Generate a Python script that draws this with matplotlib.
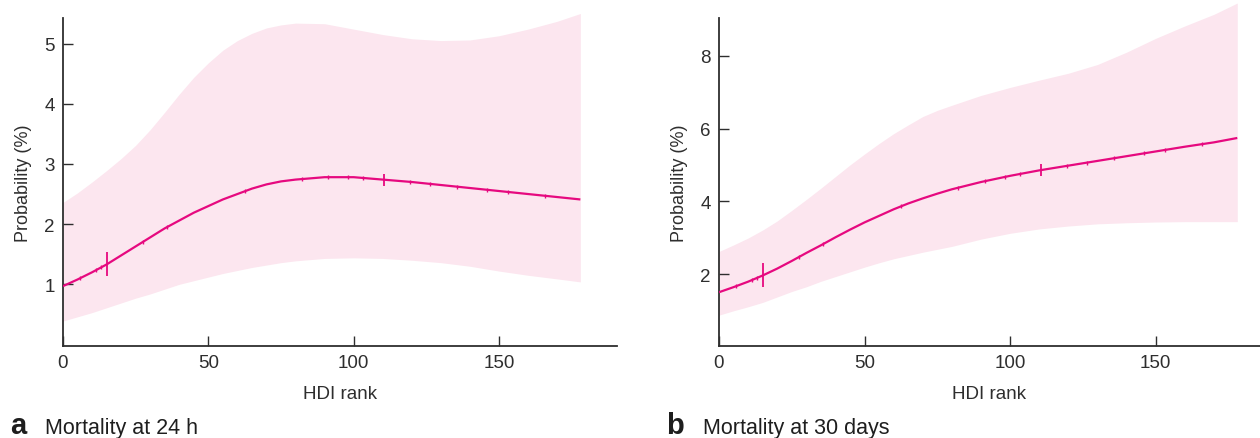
import numpy as np
import matplotlib
matplotlib.use("Agg")
import matplotlib.pyplot as plt

plt.rcParams['font.family'] = ['Liberation Sans', 'DejaVu Sans']

# ---------------- data ----------------
hdi_rank = [0, 5, 10, 15, 20, 25, 30, 35, 40, 45, 50, 55, 60, 65, 70, 75, 80,
            90, 100, 110, 120, 130, 140, 150, 160, 170, 178]

# panel a: mortality at 24 h
a_prob = [0.97, 1.08, 1.20, 1.33, 1.48, 1.63, 1.78, 1.93, 2.06, 2.19, 2.30, 2.41,
          2.50, 2.59, 2.66, 2.71, 2.74, 2.78, 2.78, 2.74, 2.70, 2.65, 2.60, 2.55,
          2.50, 2.45, 2.41]
a_upper = [2.36, 2.52, 2.70, 2.89, 3.09, 3.31, 3.57, 3.86, 4.16, 4.44, 4.68, 4.89,
           5.05, 5.17, 5.26, 5.31, 5.34, 5.33, 5.24, 5.15, 5.08, 5.05, 5.06, 5.13,
           5.24, 5.37, 5.50]
a_lower = [0.39, 0.46, 0.53, 0.61, 0.69, 0.77, 0.84, 0.92, 1.00, 1.06, 1.12, 1.18,
           1.23, 1.28, 1.32, 1.36, 1.39, 1.43, 1.44, 1.43, 1.40, 1.36, 1.30, 1.22,
           1.15, 1.09, 1.04]

# panel b: mortality at 30 days
b_prob = [1.50, 1.64, 1.79, 1.96, 2.15, 2.36, 2.58, 2.79, 3.01, 3.22, 3.42, 3.60,
          3.78, 3.94, 4.08, 4.21, 4.33, 4.53, 4.70, 4.85, 4.98, 5.11, 5.24, 5.37,
          5.50, 5.62, 5.74]
b_upper = [2.62, 2.80, 2.99, 3.21, 3.46, 3.75, 4.05, 4.36, 4.68, 5.00, 5.30, 5.59,
           5.86, 6.10, 6.33, 6.50, 6.64, 6.91, 7.13, 7.33, 7.52, 7.76, 8.10, 8.48,
           8.82, 9.14, 9.45]
b_lower = [0.87, 0.99, 1.10, 1.22, 1.37, 1.52, 1.65, 1.80, 1.93, 2.06, 2.19, 2.31,
           2.42, 2.51, 2.60, 2.68, 2.76, 2.96, 3.12, 3.24, 3.32, 3.38, 3.41, 3.43,
           3.44, 3.44, 3.44]

# observed ranks (small ticks) and quartile marks (large ticks)
obs_ranks = [5.8, 11.2, 13.1, 27.6, 35.7, 62.6, 82.1, 91.3, 98.2, 103.3, 119.4,
             126.3, 135.5, 145.8, 153.2, 165.9]
big_ranks = [15.0, 110.6]

x_ticks = [0, 50, 100, 150]
a_yticks = [1, 2, 3, 4, 5]
b_yticks = [2, 4, 6, 8]

LINE = '#E6097F'
BAND = '#FCE6EF'
AXC = '#2e2e2e'

fig = plt.figure(figsize=(12.6, 4.39), dpi=100)
ax_a = fig.add_axes([63 / 1260, 1 - 346.7 / 439, (616.7 - 63) / 1260, (346.7 - 19.3) / 439])
ax_b = fig.add_axes([719 / 1260, 1 - 346.7 / 439, (1260 - 719) / 1260, (346.7 - 19.3) / 439])


def draw(ax, prob, lo, hi, yticks, xlim, ylim):
    x = np.array(hdi_rank, dtype=float)
    ax.fill_between(x, lo, hi, color=BAND, lw=0, clip_on=False, zorder=1)
    ax.plot(x, prob, color=LINE, lw=1.6, zorder=3, solid_capstyle='butt')
    oy = np.interp(obs_ranks, x, prob)
    ax.plot(obs_ranks, oy, ls='none', marker='|', ms=3.5, mew=1.0, color=LINE, zorder=4)
    by = np.interp(big_ranks, x, prob)
    ax.plot(big_ranks[:1], by[:1], ls='none', marker='|', ms=17, mew=1.3, color=LINE, zorder=4)
    ax.plot(big_ranks[1:], by[1:], ls='none', marker='|', ms=9, mew=1.3, color=LINE, zorder=4)
    ax.set_xlim(*xlim)
    ax.set_ylim(*ylim)
    ax.set_xticks(x_ticks)
    ax.set_yticks(yticks)
    for s in ['top', 'right']:
        ax.spines[s].set_visible(False)
    for s in ['left', 'bottom']:
        ax.spines[s].set_color(AXC)
        ax.spines[s].set_linewidth(1.3)
    ax.tick_params(direction='in', length=7, width=1.0, color=AXC, labelcolor=AXC,
                   labelsize=13.5, pad=6)
    ax.set_xlabel('HDI rank', fontsize=13.5, color=AXC, labelpad=10)
    ax.set_ylabel('Probability (%)', fontsize=13, color=AXC, labelpad=9)


draw(ax_a, a_prob, a_lower, a_upper, a_yticks, (0, 190.5), (-0.02, 5.42))
draw(ax_b, b_prob, b_lower, b_upper, b_yticks, (0, 185.8), (0.03, 9.03))

base = 1 - 434 / 439
fig.text(10 / 1260, base, 'a', fontsize=21, fontweight='bold', color='#1e1e1e',
         va='baseline', ha='left')
fig.text(45 / 1260, base, 'Mortality at 24 h', fontsize=15.5, color='#1e1e1e',
         va='baseline', ha='left')
fig.text(666 / 1260, base, 'b', fontsize=21, fontweight='bold', color='#1e1e1e',
         va='baseline', ha='left')
fig.text(703 / 1260, base, 'Mortality at 30 days', fontsize=15.5, color='#1e1e1e',
         va='baseline', ha='left')

fig.savefig('out.png', dpi=100)
